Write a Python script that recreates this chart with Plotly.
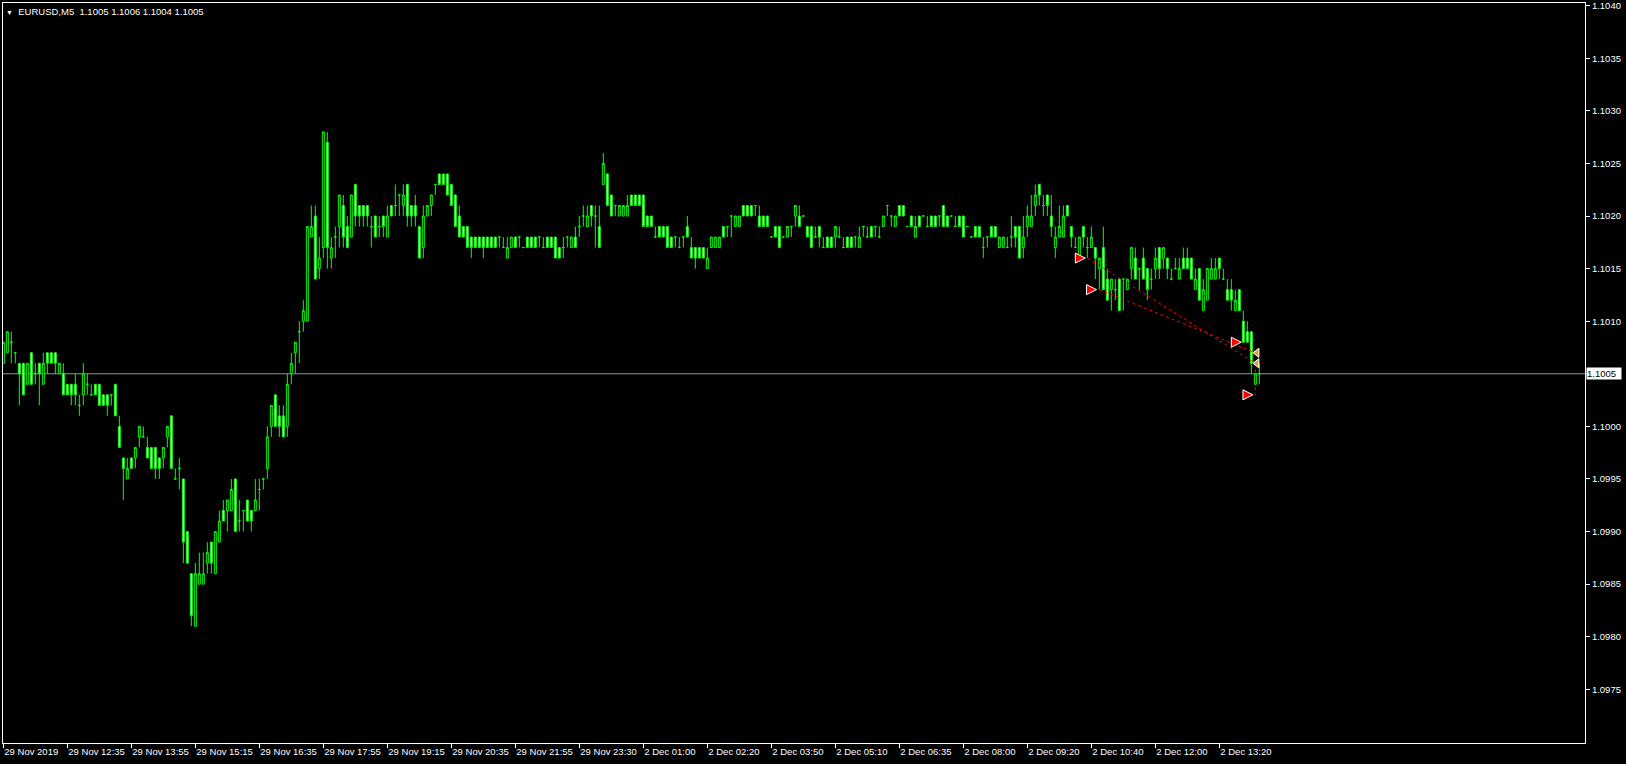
import plotly.graph_objects as go

# EURUSD M5 bars, prices in points (1 point = 0.0001), 16 bars per row
open_pts = [
    11006, 11007, 11008, 11007, 11006, 11006, 11004, 11007, 11005, 11006, 11004, 11007, 11007, 11007, 11005, 11005,
    11004, 11004, 11004, 11002, 11003, 11004, 11003, 11004, 11004, 11003, 11003, 11003, 11004, 11000, 10997, 10995,
    10997, 10997, 10999, 10999, 10998, 10998, 10998, 10997, 10997, 10999, 11001, 10995, 10996, 10995, 10990, 10986,
    10981, 10985, 10985, 10987, 10989, 10986, 10989, 10992, 10992, 10992, 10995, 10991, 10992, 10993, 10992, 10992,
    10994, 10995, 10996, 11000, 11003, 11001, 11001, 11000, 11005, 11007, 11009, 11010, 11010, 11018, 11020, 11015,
    11017, 11027, 11016, 11018, 11019, 11021, 11019, 11018, 11023, 11021, 11021, 11021, 11019, 11020, 11019, 11020,
    11018, 11021, 11021, 11022, 11021, 11023, 11021, 11021, 11019, 11017, 11020, 11021, 11023, 11024, 11024, 11024,
    11023, 11022, 11020, 11019, 11019, 11018, 11018, 11018, 11018, 11018, 11018, 11018, 11018, 11017, 11016, 11017,
    11018, 11018, 11017, 11018, 11018, 11018, 11018, 11017, 11018, 11018, 11018, 11017, 11017, 11018, 11017, 11018,
    11019, 11020, 11019, 11021, 11020, 11019, 11023, 11024, 11022, 11021, 11020, 11020, 11020, 11022, 11022, 11022,
    11022, 11020, 11020, 11018, 11019, 11019, 11019, 11018, 11018, 11017, 11018, 11019, 11017, 11017, 11017, 11017,
    11015, 11017, 11017, 11017, 11019, 11019, 11020, 11019, 11019, 11021, 11021, 11021, 11021, 11020, 11020, 11020,
    11018, 11019, 11019, 11018, 11018, 11019, 11020, 11020, 11020, 11019, 11019, 11018, 11019, 11017, 11018, 11018,
    11018, 11018, 11017, 11018, 11018, 11018, 11017, 11019, 11018, 11019, 11019, 11018, 11019, 11021, 11020, 11019,
    11021, 11021, 11019, 11020, 11018, 11020, 11020, 11019, 11020, 11020, 11020, 11021, 11020, 11020, 11019, 11020,
    11020, 11019, 11018, 11019, 11019, 11017, 11018, 11019, 11019, 11017, 11017, 11017, 11018, 11019, 11019, 11017,
    11019, 11019, 11021, 11023, 11021, 11022, 11020, 11017, 11018, 11018, 11021, 11019, 11017, 11016, 11019, 11017,
    11017, 11017, 11015, 11017, 11014, 11013, 11013, 11014, 11014, 11013, 11015, 11016, 11015, 11016, 11015, 11014,
    11015, 11017, 11016, 11016, 11014, 11015, 11014, 11016, 11016, 11016, 11013, 11015, 11011, 11012, 11014, 11014,
    11016, 11014, 11013, 11013, 11011, 11013, 11010, 11009, 11009, 11004, 11005,
]
high_pts = [
    11008, 11009, 11009, 11007, 11006, 11006, 11006, 11007, 11006, 11006, 11007, 11007, 11007, 11007, 11006, 11006,
    11004, 11004, 11005, 11003, 11006, 11005, 11004, 11004, 11004, 11003, 11003, 11003, 11004, 11001, 10997, 10997,
    10997, 10998, 11000, 11000, 10999, 10998, 10998, 10997, 10998, 11000, 11001, 10996, 10997, 10995, 10990, 10986,
    10987, 10988, 10988, 10989, 10989, 10990, 10992, 10993, 10993, 10995, 10995, 10993, 10992, 10993, 10992, 10995,
    10995, 10995, 11000, 11002, 11003, 11002, 11002, 11005, 11007, 11008, 11010, 11012, 11019, 11021, 11021, 11018,
    11028, 11028, 11018, 11019, 11022, 11022, 11020, 11022, 11023, 11021, 11021, 11021, 11020, 11020, 11020, 11020,
    11021, 11021, 11023, 11022, 11023, 11023, 11021, 11022, 11019, 11021, 11021, 11022, 11023, 11024, 11024, 11024,
    11023, 11022, 11021, 11019, 11019, 11018, 11018, 11018, 11018, 11018, 11018, 11018, 11018, 11018, 11018, 11018,
    11018, 11018, 11017, 11018, 11018, 11018, 11018, 11018, 11018, 11018, 11018, 11017, 11018, 11018, 11018, 11019,
    11020, 11021, 11021, 11021, 11021, 11021, 11026, 11024, 11022, 11021, 11021, 11021, 11022, 11022, 11022, 11022,
    11022, 11020, 11020, 11019, 11019, 11019, 11019, 11018, 11018, 11018, 11018, 11020, 11018, 11017, 11017, 11017,
    11017, 11018, 11018, 11018, 11019, 11019, 11020, 11020, 11020, 11021, 11021, 11021, 11021, 11021, 11020, 11020,
    11018, 11019, 11019, 11018, 11019, 11019, 11021, 11021, 11020, 11019, 11019, 11019, 11019, 11018, 11018, 11018,
    11019, 11019, 11018, 11018, 11018, 11018, 11019, 11019, 11019, 11019, 11019, 11019, 11020, 11021, 11020, 11020,
    11021, 11021, 11019, 11020, 11020, 11020, 11020, 11020, 11020, 11020, 11020, 11021, 11020, 11020, 11020, 11020,
    11020, 11019, 11018, 11019, 11019, 11018, 11018, 11019, 11019, 11018, 11018, 11018, 11020, 11019, 11019, 11020,
    11021, 11022, 11023, 11023, 11022, 11022, 11022, 11019, 11021, 11021, 11021, 11019, 11018, 11018, 11019, 11018,
    11019, 11017, 11016, 11019, 11015, 11014, 11014, 11014, 11014, 11014, 11017, 11017, 11015, 11017, 11015, 11015,
    11017, 11017, 11017, 11016, 11015, 11016, 11016, 11017, 11017, 11016, 11015, 11015, 11014, 11015, 11016, 11016,
    11016, 11015, 11014, 11014, 11013, 11013, 11011, 11010, 11009, 11005, 11006,
]
low_pts = [
    11006, 11007, 11006, 11006, 11002, 11003, 11004, 11004, 11004, 11002, 11004, 11005, 11006, 11005, 11005, 11003,
    11003, 11002, 11002, 11001, 11002, 11003, 11003, 11003, 11002, 11002, 11001, 11002, 11001, 10998, 10993, 10995,
    10996, 10996, 10998, 10999, 10997, 10996, 10995, 10995, 10996, 10998, 10996, 10995, 10994, 10987, 10987, 10981,
    10981, 10985, 10985, 10986, 10986, 10986, 10989, 10991, 10990, 10992, 10990, 10990, 10990, 10991, 10990, 10992,
    10992, 10994, 10995, 10999, 11000, 10999, 10999, 10999, 11004, 11005, 11006, 11009, 11010, 11018, 11014, 11014,
    11016, 11015, 11015, 11016, 11017, 11017, 11017, 11018, 11019, 11019, 11019, 11019, 11017, 11018, 11018, 11018,
    11018, 11020, 11020, 11020, 11020, 11019, 11019, 11019, 11016, 11016, 11020, 11020, 11022, 11023, 11023, 11022,
    11021, 11019, 11018, 11018, 11017, 11016, 11017, 11017, 11016, 11017, 11017, 11017, 11017, 11017, 11016, 11017,
    11017, 11017, 11017, 11017, 11017, 11017, 11017, 11017, 11017, 11017, 11016, 11016, 11016, 11017, 11017, 11017,
    11018, 11019, 11019, 11019, 11017, 11017, 11023, 11021, 11020, 11020, 11020, 11020, 11020, 11021, 11021, 11021,
    11019, 11019, 11019, 11018, 11018, 11018, 11017, 11017, 11017, 11017, 11017, 11018, 11016, 11015, 11016, 11016,
    11015, 11017, 11017, 11017, 11018, 11018, 11018, 11019, 11019, 11020, 11020, 11020, 11020, 11019, 11019, 11019,
    11018, 11018, 11017, 11018, 11018, 11018, 11019, 11019, 11020, 11018, 11017, 11018, 11017, 11017, 11017, 11017,
    11017, 11018, 11017, 11017, 11017, 11017, 11017, 11018, 11018, 11018, 11018, 11018, 11019, 11020, 11019, 11019,
    11020, 11020, 11019, 11019, 11018, 11019, 11020, 11019, 11019, 11019, 11019, 11019, 11019, 11020, 11019, 11019,
    11018, 11019, 11018, 11018, 11018, 11016, 11017, 11018, 11018, 11017, 11017, 11017, 11017, 11017, 11016, 11016,
    11018, 11019, 11020, 11021, 11020, 11020, 11018, 11016, 11018, 11018, 11020, 11017, 11017, 11016, 11017, 11016,
    11017, 11014, 11013, 11013, 11012, 11011, 11012, 11011, 11011, 11013, 11014, 11014, 11013, 11014, 11012, 11013,
    11014, 11014, 11015, 11014, 11014, 11015, 11014, 11015, 11015, 11014, 11013, 11012, 11011, 11012, 11014, 11014,
    11014, 11014, 11012, 11011, 11011, 11011, 11008, 11008, 11005, 11004, 11004,
]
close_pts = [
    11008, 11009, 11008, 11007, 11005, 11003, 11006, 11004, 11005, 11005, 11006, 11006, 11006, 11006, 11006, 11003,
    11003, 11003, 11003, 11002, 11005, 11004, 11003, 11003, 11002, 11002, 11002, 11003, 11001, 10998, 10996, 10996,
    10996, 10998, 11000, 10999, 10997, 10996, 10996, 10996, 10998, 11000, 10996, 10995, 10996, 10989, 10987, 10982,
    10986, 10986, 10986, 10988, 10987, 10990, 10991, 10991, 10993, 10994, 10990, 10991, 10992, 10991, 10991, 10993,
    10994, 10995, 10999, 11002, 11000, 11000, 10999, 11004, 11006, 11008, 11009, 11011, 11019, 11019, 11014, 11016,
    11028, 11017, 11017, 11018, 11022, 11018, 11017, 11022, 11020, 11020, 11020, 11020, 11019, 11018, 11019, 11019,
    11020, 11020, 11021, 11022, 11022, 11020, 11020, 11020, 11016, 11020, 11021, 11022, 11023, 11023, 11023, 11022,
    11021, 11019, 11018, 11018, 11017, 11017, 11017, 11017, 11017, 11017, 11017, 11017, 11018, 11017, 11017, 11018,
    11017, 11018, 11017, 11017, 11017, 11017, 11018, 11017, 11017, 11017, 11016, 11016, 11017, 11018, 11018, 11017,
    11019, 11020, 11020, 11020, 11020, 11017, 11025, 11021, 11020, 11021, 11021, 11021, 11021, 11021, 11021, 11021,
    11019, 11019, 11019, 11018, 11018, 11018, 11017, 11017, 11018, 11017, 11018, 11018, 11016, 11016, 11016, 11016,
    11016, 11018, 11018, 11018, 11018, 11019, 11020, 11020, 11020, 11020, 11020, 11020, 11021, 11019, 11019, 11019,
    11018, 11018, 11017, 11018, 11019, 11019, 11021, 11019, 11020, 11018, 11017, 11018, 11018, 11017, 11017, 11017,
    11019, 11018, 11017, 11017, 11017, 11018, 11018, 11019, 11018, 11018, 11019, 11018, 11020, 11021, 11020, 11020,
    11020, 11020, 11019, 11019, 11019, 11019, 11020, 11019, 11019, 11019, 11020, 11019, 11019, 11020, 11019, 11019,
    11018, 11019, 11018, 11018, 11018, 11017, 11018, 11018, 11018, 11018, 11018, 11017, 11018, 11018, 11016, 11018,
    11020, 11020, 11022, 11022, 11021, 11021, 11019, 11018, 11019, 11020, 11020, 11018, 11017, 11018, 11018, 11017,
    11018, 11016, 11016, 11013, 11012, 11014, 11013, 11011, 11014, 11014, 11017, 11014, 11015, 11014, 11013, 11014,
    11016, 11015, 11017, 11015, 11014, 11015, 11015, 11015, 11015, 11014, 11014, 11012, 11013, 11015, 11015, 11015,
    11015, 11014, 11012, 11012, 11012, 11011, 11008, 11008, 11006, 11005, 11005,
]

# time axis: one label every 16 bars
label_bars = [0, 16, 32, 48, 64, 80, 96, 112, 128, 144, 160, 176, 192, 208, 224, 240, 256, 272, 288, 304]
label_text = [
    "29 Nov 2019", "29 Nov 12:35", "29 Nov 13:55", "29 Nov 15:15", "29 Nov 16:35",
    "29 Nov 17:55", "29 Nov 19:15", "29 Nov 20:35", "29 Nov 21:55", "29 Nov 23:30",
    "2 Dec 01:00", "2 Dec 02:20", "2 Dec 03:50", "2 Dec 05:10", "2 Dec 06:35",
    "2 Dec 08:00", "2 Dec 09:20", "2 Dec 10:40", "2 Dec 12:00", "2 Dec 13:20",
]
price_ticks = [1.0975, 1.0980, 1.0985, 1.0990, 1.0995, 1.1000, 1.1005,
               1.1010, 1.1015, 1.1020, 1.1025, 1.1030, 1.1035, 1.1040]
bid_price = 1.1005

# trade arrows and levels drawn by the terminal
arrow_bar = [270.5, 273.3, 309.5, 312.4]
arrow_price = [1.1016, 1.1013, 1.1008, 1.1003]
level_bar = [313.4, 313.4]
level_price = [1.1007, 1.1006]
trade_lines = [
    ([271, 313], [1.1016, 1.1006]),
    ([274, 313], [1.1013, 1.1007]),
    ([313, 313], [1.1006, 1.1003]),
]

LIME = "#00FF00"
FONT = "Liberation Sans"

bars = list(range(len(open_pts)))

fig = go.Figure()

fig.add_trace(go.Candlestick(
    x=bars,
    open=[p / 10000 for p in open_pts],
    high=[p / 10000 for p in high_pts],
    low=[p / 10000 for p in low_pts],
    close=[p / 10000 for p in close_pts],
    increasing=dict(line=dict(color=LIME, width=1), fillcolor="black"),
    decreasing=dict(line=dict(color=LIME, width=1), fillcolor="white"),
    whiskerwidth=0,
    hoverinfo="skip",
    showlegend=False,
))

# dashed trade lines
for xs, ys in trade_lines:
    fig.add_trace(go.Scatter(
        x=xs, y=ys, mode="lines",
        line=dict(color="#FF0000", width=1, dash="3px,3px"),
        hoverinfo="skip", showlegend=False,
    ))

fig.add_trace(go.Scatter(
    x=arrow_bar, y=arrow_price, mode="markers",
    marker=dict(symbol="arrow-right", size=10, color="#FF0000",
                line=dict(color="white", width=1)),
    hoverinfo="skip", showlegend=False,
))
fig.add_trace(go.Scatter(
    x=level_bar, y=level_price, mode="markers",
    marker=dict(symbol="triangle-left", size=8, color="#E0A040",
                line=dict(color="white", width=1)),
    hoverinfo="skip", showlegend=False,
))

# bid line
fig.add_shape(type="line", xref="paper", x0=0, x1=1, y0=bid_price, y1=bid_price,
              line=dict(color="#8A96A8", width=1), layer="below")

# bid price box on the price scale (takes the place of the 1.1005 tick label)
fig.add_annotation(
    xref="paper", x=1, y=bid_price, xanchor="left", yanchor="middle", xshift=1,
    width=34, height=11, align="left",
    text=f"{bid_price:.4f}", showarrow=False, bgcolor="white", borderpad=0,
    font=dict(family=FONT, size=9.5, color="black"),
)
price_labels = ["" if v == bid_price else f"{v:.4f}" for v in price_ticks]

nb = "\u00a0"
header = (f'<span style="font-size:7px">▼</span>{nb}{nb}EURUSD,M5{nb}{nb}'
          f'{open_pts[-1] / 10000:.4f} {high_pts[-1] / 10000:.4f} '
          f'{low_pts[-1] / 10000:.4f} {close_pts[-1] / 10000:.4f}')
fig.add_annotation(
    xref="paper", yref="paper", x=0, y=1, xanchor="left", yanchor="top",
    xshift=1, yshift=-1, text=header, showarrow=False,
    font=dict(family=FONT, size=9.5, color="white"),
)

fig.update_layout(
    width=1626, height=764,
    margin=dict(l=3, r=41, t=3, b=21, autoexpand=False),
    paper_bgcolor="black",
    plot_bgcolor="black",
    font=dict(family=FONT, size=9.5, color="white"),
    showlegend=False,
    xaxis=dict(
        range=[-0.08, 395.42],
        showgrid=False, zeroline=False,
        showline=True, mirror=True, linecolor="white", linewidth=1,
        tickvals=label_bars, ticktext=label_text,
        ticks="outside", ticklen=4, tickcolor="white",
        ticklabelposition="outside right", tickangle=0,
        tickfont=dict(family=FONT, size=9.5, color="white"),
        rangeslider=dict(visible=False),
        automargin=False,
        fixedrange=True,
    ),
    yaxis=dict(
        range=[1.09699, 1.104025],
        side="right",
        showgrid=False, zeroline=False,
        showline=True, mirror=True, linecolor="white", linewidth=1,
        tickvals=price_ticks, ticktext=price_labels,
        ticks="outside", ticklen=4, tickcolor="white",
        ticklabeloverflow="allow",
        tickfont=dict(family=FONT, size=9.5, color="white"),
        automargin=False,
        fixedrange=True,
    ),
)

# the page body has a default 8px margin; drop it so the chart fills the window
fig.write_html("out.html", config={"displayModeBar": False},
               post_script="document.body.style.margin='0';")
